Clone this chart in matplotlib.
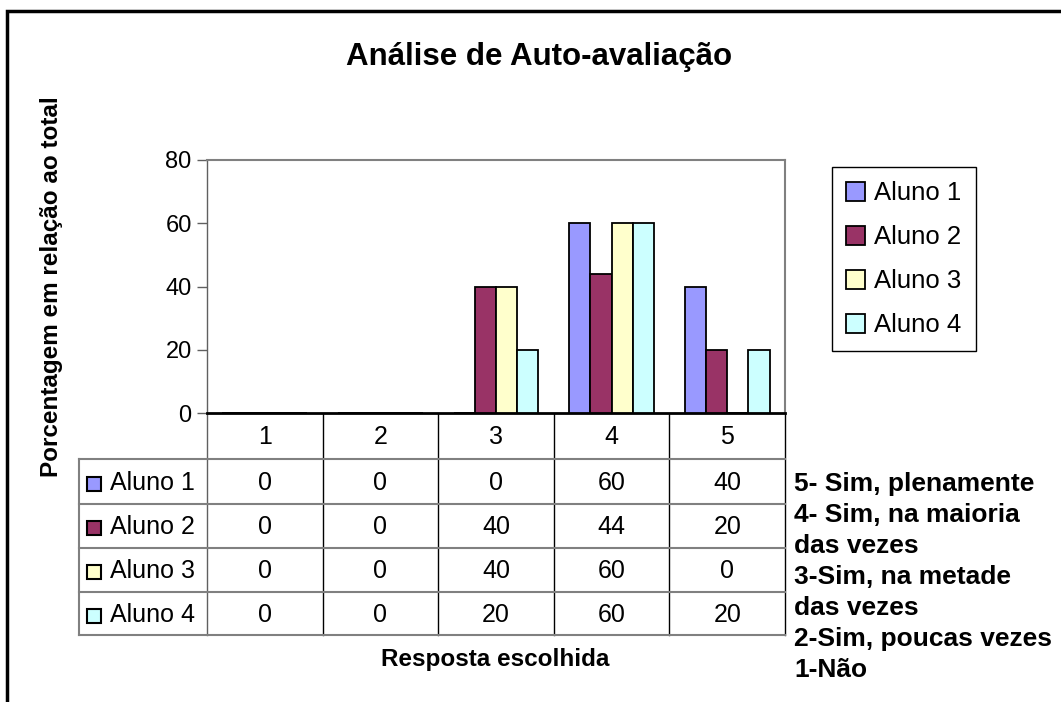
import matplotlib
matplotlib.use("Agg")
import matplotlib.pyplot as plt
from matplotlib.patches import Rectangle
from matplotlib.transforms import blended_transform_factory
import numpy as np

plt.rcParams['font.family'] = ['Liberation Sans', 'DejaVu Sans']

# dados
respostas = ["1", "2", "3", "4", "5"]
alunos = ["Aluno 1", "Aluno 2", "Aluno 3", "Aluno 4"]
aluno1 = [0, 0, 0, 60, 40]
aluno2 = [0, 0, 40, 44, 20]
aluno3 = [0, 0, 40, 60, 0]
aluno4 = [0, 0, 20, 60, 20]
cores = ["#9999FF", "#993366", "#FFFFCC", "#CCFFFF"]
escala = ["5- Sim, plenamente", "4- Sim, na maioria", "das vezes",
          "3-Sim, na metade", "das vezes", "2-Sim, poucas vezes", "1-Não"]

W, H = 1061, 702
fig = plt.figure(figsize=(W / 100, H / 100), dpi=100)

# camada de fundo em pixels
bg = fig.add_axes([0, 0, 1, 1])
bg.set_xlim(0, W)
bg.set_ylim(H, 0)
bg.axis('off')


def caixa(x0, y0, x1, y1):
    return [x0 / W, 1 - y1 / H, (x1 - x0) / W, (y1 - y0) / H]


# moldura externa
bg.plot([7, 7, W], [H, 11, 11], color='black', lw=2.5, solid_joinstyle='miter')

ax = fig.add_axes(caixa(207, 160, 785, 413))
series = [aluno1, aluno2, aluno3, aluno4]
x = np.arange(len(respostas))
larg = 0.183
for k, (vals, nome, cor) in enumerate(zip(series, alunos, cores)):
    ax.bar(x + (k - 1.5) * larg, vals, larg, color=cor, edgecolor='black',
           linewidth=1.3, label=nome, zorder=3)

ax.set_xlim(-0.5, 4.5)
ax.set_ylim(0, 80)
ax.set_yticks([0, 20, 40, 60, 80])
ax.set_xticks([])
ax.tick_params(axis='y', direction='out', length=7, width=1, color='#606060',
               labelsize=17, pad=4)
for s in ['top', 'right']:
    ax.spines[s].set_color('#808080')
    ax.spines[s].set_linewidth(1.5)
ax.spines['left'].set_color('#606060')
ax.spines['left'].set_linewidth(1)
ax.spines['bottom'].set_color('black')
ax.spines['bottom'].set_linewidth(2)

# legenda
leg = ax.legend(loc='upper left', bbox_to_anchor=(832 / W, 1 - 167 / H),
                bbox_transform=fig.transFigure, fontsize=18.5, fancybox=False,
                framealpha=1, edgecolor='black', handlelength=0.75,
                handleheight=0.75, handletextpad=0.35, labelspacing=0.78,
                borderpad=0.55, borderaxespad=0)
leg.get_frame().set_linewidth(1)

# tabela de dados
tr = blended_transform_factory(ax.transData, bg.transData)
topo, linhas_y = 413, [459, 504, 548, 592, 635]
for i, r in enumerate(respostas):
    bg.text(i, 437, r, transform=tr, ha='center', va='center', fontsize=18)
for xi in list(x[1:] - 0.5) + [4.5]:
    bg.plot([xi, xi], [topo, linhas_y[-1]], transform=tr, color='black', lw=1)
bg.plot([-0.5, -0.5], [topo, linhas_y[-1]], transform=tr, color='#606060', lw=1)
for yl in linhas_y:
    bg.plot([79, 785], [yl, yl], color='#808080', lw=1.5)
bg.plot([79, 79], [linhas_y[0], linhas_y[-1]], color='#808080', lw=1.5)

for j, (vals, nome, cor) in enumerate(zip(series, alunos, cores)):
    yc = (linhas_y[j] + linhas_y[j + 1]) / 2
    bg.add_patch(Rectangle((87, yc - 5), 14, 14, facecolor=cor,
                           edgecolor='black', lw=1.5))
    bg.text(110, yc + 1, nome, ha='left', va='center', fontsize=18)
    for i, v in enumerate(vals):
        bg.text(i, yc + 1, str(v), transform=tr, ha='center', va='center',
                fontsize=18)

# textos
bg.text(539, 57, "Análise de Auto-avaliação", ha='center', va='center',
        fontsize=22.5, fontweight='bold')
bg.text(52, 287, "Porcentagem em relação ao total", ha='center', va='center',
        rotation=90, fontsize=17.5, fontweight='bold')
bg.text(495, 666, "Resposta escolhida", ha='center', va='baseline',
        fontsize=17.5, fontweight='bold')
for k, t in enumerate(escala):
    bg.text(794, 491 + 31 * k, t, ha='left', va='baseline', fontsize=19,
            fontweight='bold')

fig.savefig("out.png", dpi=100)
